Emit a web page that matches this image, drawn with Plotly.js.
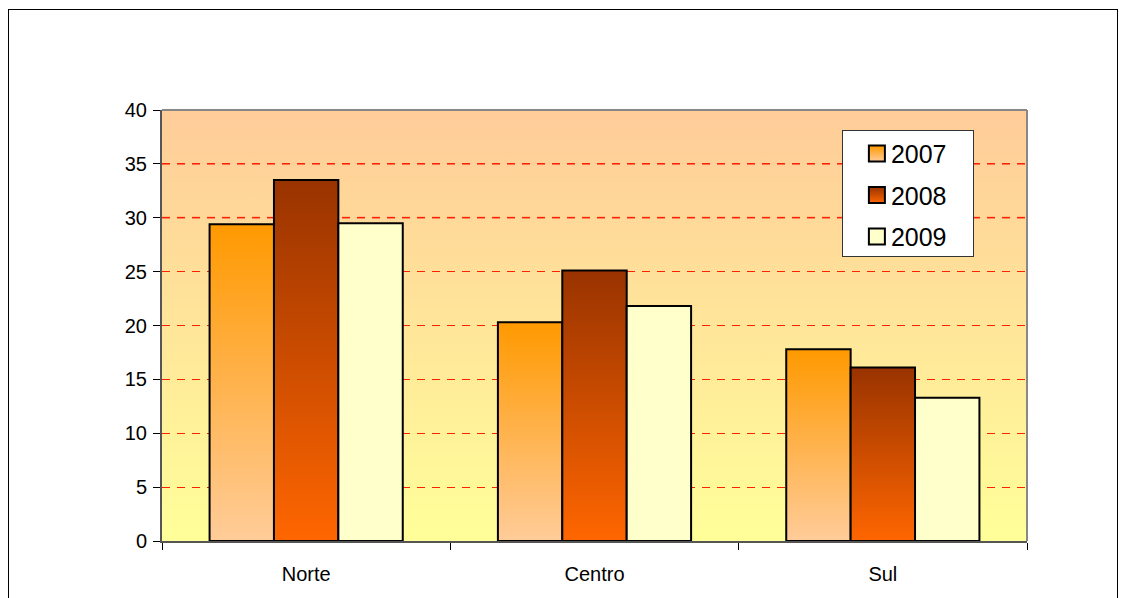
<!DOCTYPE html>
<html><head><meta charset="utf-8">
<script src="https://cdn.plot.ly/plotly-3.0.1.min.js"></script>
<style>
html,body{margin:0;padding:0;background:#fff;}
#frame{position:absolute;left:8px;top:9px;width:1110px;height:620px;border:1px solid #000;box-sizing:border-box;pointer-events:none;z-index:5;}
#chart{position:absolute;left:0;top:0;width:1128px;height:598px;}
</style></head>
<body>
<div id="chart"></div>
<div id="frame"></div>
<script>
const categories = ["Norte", "Centro", "Sul"];
const years = ["2007", "2008", "2009"];
const v2007 = [29.4, 20.3, 17.8];
const v2008 = [33.5, 25.1, 16.1];
const v2009 = [29.5, 21.8, 13.3];
const yTicks = [0, 5, 10, 15, 20, 25, 30, 35, 40];

const seriesValues = [v2007, v2008, v2009];
const baseColors = ["#FF9900", "#CC4400", "#FFFFCC"];
const traces = years.map((y, i) => ({
  type: "bar", name: y, x: categories, y: seriesValues[i],
  legendgroup: "g" + i,
  marker: {color: baseColors[i], line: {color: "#000", width: 2}},
  hoverinfo: "skip"
}));

const layout = {
  width: 1128, height: 598,
  margin: {l: 162, r: 101, t: 110, b: 57},
  paper_bgcolor: "rgba(0,0,0,0)",
  plot_bgcolor: "#FFE699",
  barmode: "group", bargap: 0.33, bargroupgap: 0,
  font: {family: "Liberation Sans, Arial, sans-serif", color: "#000", size: 20},
  xaxis: {
    type: "category", tickson: "boundaries", ticks: "outside", ticklen: 7, tickcolor: "#000",
    showline: true, linecolor: "#555", linewidth: 2, mirror: false,
    showgrid: false, tickfont: {size: 20}, ticklabelstandoff: 14, fixedrange: true
  },
  yaxis: {
    range: [0, 40], tickvals: yTicks, ticktext: yTicks.map(String),
    ticks: "outside", ticklen: 7, tickcolor: "#000",
    showline: true, linecolor: "#555", linewidth: 2,
    showgrid: true, gridcolor: "#FF2200", gridwidth: 1, griddash: "8px,7px",
    zeroline: false, tickfont: {size: 20}, ticklabelstandoff: 2, fixedrange: true
  },
  shapes: [
    {type: "line", xref: "paper", yref: "y", x0: 0, x1: 1, y0: 35, y1: 35, layer: "below", line: {color: "#FF6A48", width: 2, dash: "8px,7px"}},
    {type: "line", xref: "paper", yref: "y", x0: 0, x1: 1, y0: 30, y1: 30, layer: "below", line: {color: "#FF6A48", width: 2, dash: "8px,7px"}},
    {type: "line", xref: "paper", yref: "paper", x0: 0, x1: 1, y0: 1, y1: 1, line: {color: "#888", width: 2}},
    {type: "line", xref: "paper", yref: "paper", x0: 1, x1: 1, y0: 0, y1: 1, line: {color: "#888", width: 2}}
  ],
  showlegend: true,
  legend: {
    x: 0.786, y: 0.954, xanchor: "left", yanchor: "top",
    bgcolor: "#FFFFFF", bordercolor: "#333", borderwidth: 1,
    font: {size: 25}, traceorder: "grouped", tracegroupgap: 6, indentation: 8,
    itemclick: false, itemdoubleclick: false
  }
};

Plotly.newPlot("chart", traces, layout, {staticPlot: true, displayModeBar: false}).then(() => {
  const svg = document.querySelector("#chart .main-svg");
  const ns = "http://www.w3.org/2000/svg";
  let defs = svg.querySelector("defs");
  if (!defs) { defs = document.createElementNS(ns, "defs"); svg.insertBefore(defs, svg.firstChild); }
  function grad(id, top, bottom) {
    const g = document.createElementNS(ns, "linearGradient");
    g.setAttribute("id", id);
    g.setAttribute("x1", "0"); g.setAttribute("y1", "0");
    g.setAttribute("x2", "0"); g.setAttribute("y2", "1");
    [[0, top], [1, bottom]].forEach(([o, c]) => {
      const s = document.createElementNS(ns, "stop");
      s.setAttribute("offset", o); s.setAttribute("stop-color", c);
      g.appendChild(s);
    });
    defs.appendChild(g);
  }
  grad("gbg", "#FFCC99", "#FFFF99");
  grad("g2007", "#FF9900", "#FFCC99");
  grad("g2008", "#993300", "#FF6600");
  grad("g2009", "#FFFFCC", "#FFFFCC");
  const ids = ["g2007", "g2008", "g2009"];
  const bg = svg.querySelector(".bglayer rect.bg");
  if (bg) bg.style.fill = "url(#gbg)";
  svg.querySelectorAll(".barlayer .trace.bars").forEach((t, i) => {
    t.querySelectorAll("path").forEach(p => { p.style.fill = "url(#" + ids[i] + ")"; });
  });
  document.querySelectorAll("#chart .legend .traces").forEach((t, i) => {
    t.querySelectorAll(".legendpoints path").forEach(p => {
      p.style.fill = "url(#" + ids[i] + ")";
      p.setAttribute("d", "M8,8H-8V-8H8Z");
      p.style.strokeWidth = "2px";
    });
    const lp = t.querySelector(".legendpoints");
    if (lp) lp.setAttribute("transform", "translate(6,0)");
  });
  const lbg = document.querySelector("#chart .legend rect.bg");
  if (lbg) {
    lbg.setAttribute("width", "131");
    const h = parseFloat(lbg.getAttribute("height"));
    lbg.setAttribute("height", String(Math.min(h, 126)));
  }
});
</script>
</body></html>
